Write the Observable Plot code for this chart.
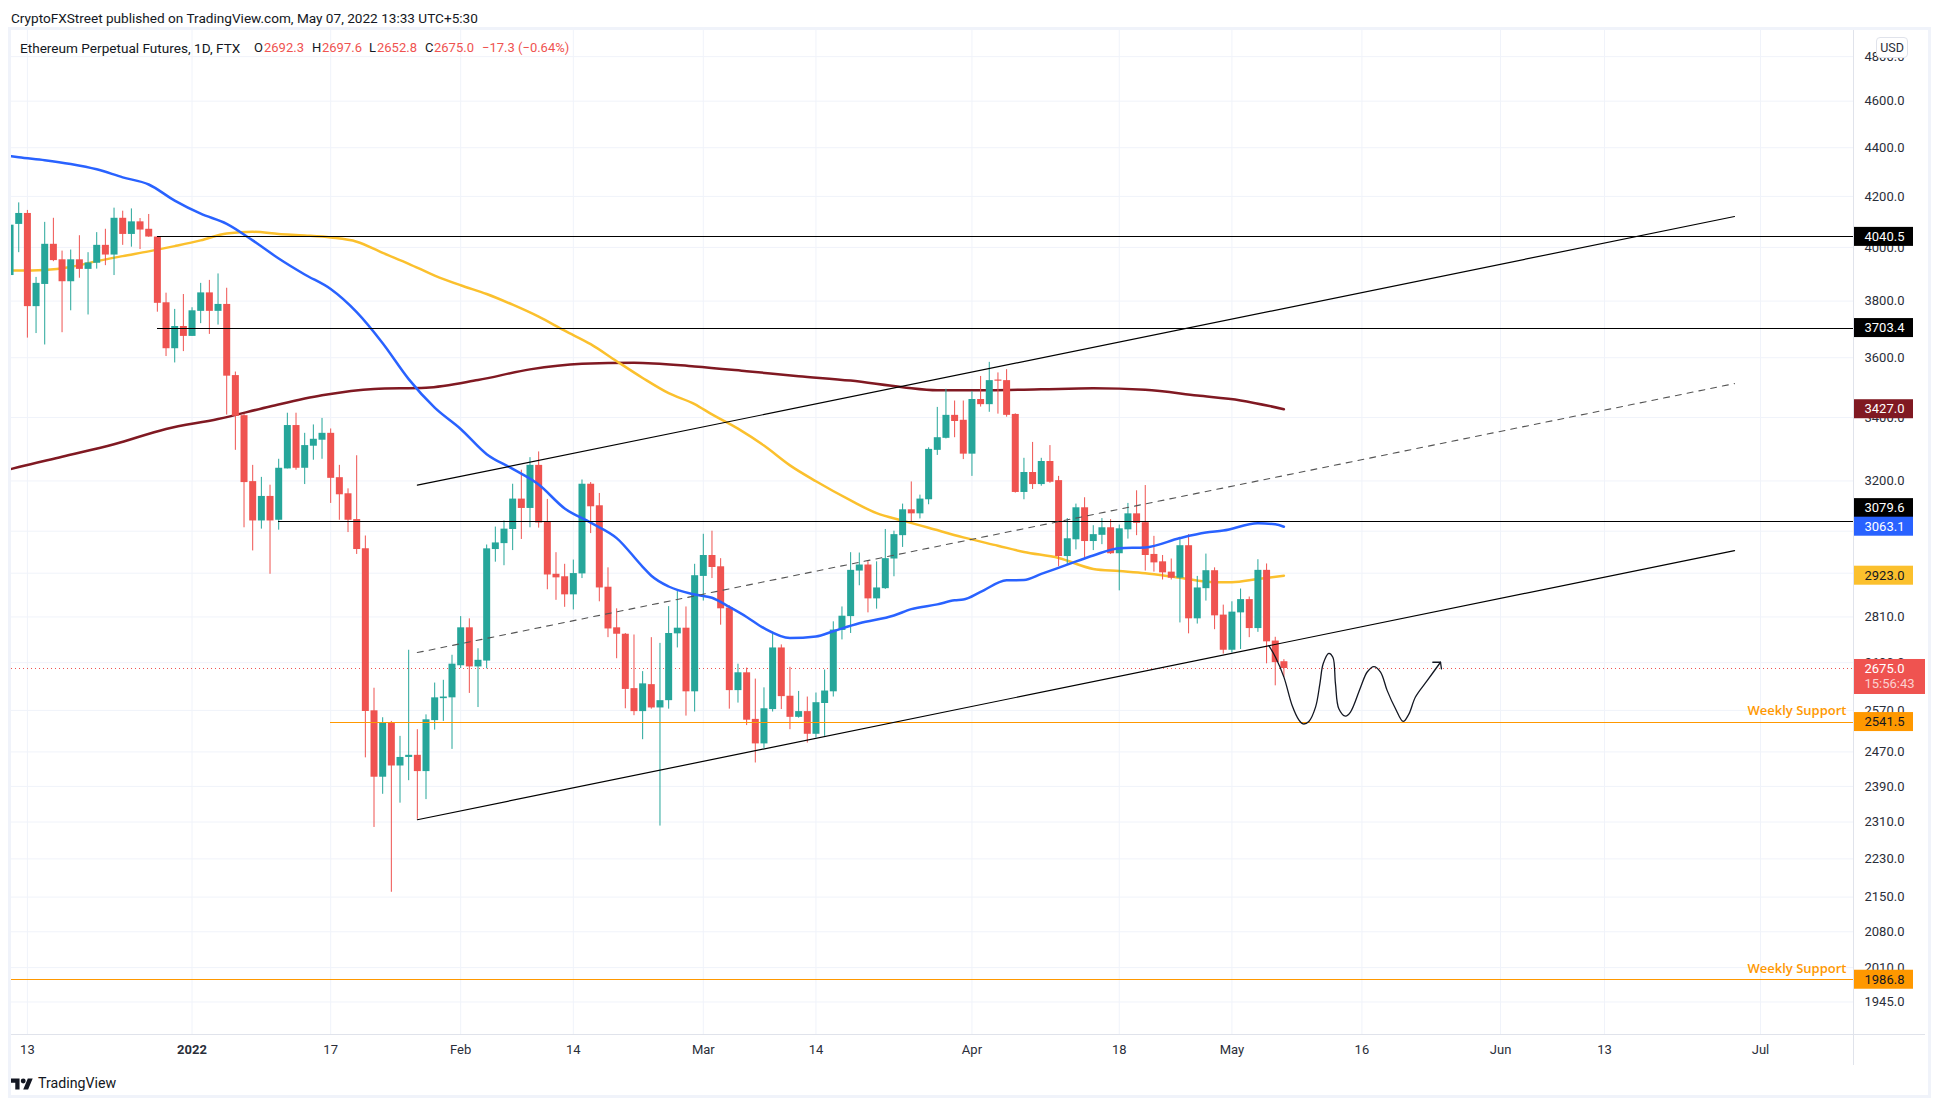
<!DOCTYPE html>
<html>
<head>
<meta charset="utf-8">
<script src="https://cdn.jsdelivr.net/npm/d3@7"></script>
<script src="https://cdn.jsdelivr.net/npm/@observablehq/plot@0.6"></script>
<style>
  html,body{margin:0;padding:0;background:#fff;width:1940px;height:1104px;overflow:hidden;font-family:Roboto,sans-serif;color:#131722}
  #head{height:30px;position:relative;font-size:13.6px}
  #head span{position:absolute;left:11px;top:10px;white-space:nowrap}
  #chart{position:relative;height:1035px}
  #chart svg{display:block;margin:-0.5px 0 0 -0.5px}
  #foot{height:39px;position:relative}
  #foot svg{position:absolute;left:11px;top:13px}
  #foot span{position:absolute;left:38px;top:10px;font-size:14.2px;color:#131722}
  .abs{position:absolute;pointer-events:none}
  #legend{left:20px;top:10px;font-size:13px;white-space:nowrap;line-height:16px;height:16px;width:600px}
  #legend span{position:absolute;top:0}
  #legend .t{font-size:13.6px}
  #legend .r{color:#ef5350}
  #usd{left:1876px;top:7px;width:30px;height:19px;border:1px solid #e0e3eb;border-radius:4px;background:#fff;font-size:12.5px;text-align:center;line-height:19px;color:#2a2e39}
  #frame{left:8px;top:-3px;width:1917px;height:1065px;border:3px solid #f0f3fa}
  #lineR{left:1853px;top:0;width:1px;height:1035px;background:#e0e3eb}
  #lineB{left:11px;top:1004px;width:1914px;height:1px;background:#e0e3eb}
</style>
</head>
<body>
<div id="head"><span>CryptoFXStreet published on TradingView.com, May 07, 2022 13:33 UTC+5:30</span></div>
<div id="chart">
  <div class="abs" id="legend">
    <span class="t" style="left:0">Ethereum Perpetual Futures, 1D, FTX</span>
    <span style="left:234px">O</span><span class="r" style="left:244px">2692.3</span>
    <span style="left:292px">H</span><span class="r" style="left:302px">2697.6</span>
    <span style="left:349px">L</span><span class="r" style="left:357px">2652.8</span>
    <span style="left:405px">C</span><span class="r" style="left:414px">2675.0</span>
    <span class="r" style="left:462px">−17.3 (−0.64%)</span>
  </div>
</div>
<div id="foot">
  <svg width="22" height="12" viewBox="0 7 36 18"><path fill="#131722" d="M14 25H7V14H0V7h14v18zM28 25h-8l7.5-18h8L28 25z"/><circle fill="#131722" cx="20" cy="11" r="4"/></svg>
  <span>TradingView</span>
</div>
<script>
// Daily candles from 2021-12-11 to 2022-05-07
const open = [
 3894,4089,4132,3780,3861,4012,3953,3871,3953,3917,3940,4008,3971,4113,4050,4099,4070,4040,3794,3631,3709,
 3674,3763,3830,3763,3788,3539,3406,3198,3080,3153,3082,3237,3374,3239,3308,3327,3349,3210,3161,3084,2999,2569,2411,2540,2437,2457,2462,2424,2545,2599,2601,
 2682,2781,2679,2694,2997,3014,3055,3145,3117,3248,3076,2927,2920,2870,2928,3190,3125,2891,2781,2764,2624,2567,2634,2576,2594,2765,2780,2616,
 2921,2980,2948,2834,2619,2664,2548,2489,2572,2728,2605,2553,2567,2512,2587,2616,2774,2811,2936,2953,2859,2887,2970,3037,3113,3101,3143,3295,3333,3407,3391,
 3283,3459,3442,3524,3522,3410,3165,3226,3189,3260,3201,2977,3025,3119,3020,3038,3060,2985,3054,3101,3075,2983,2962,2933,2916,3008,2805,2887,2937,2815,
 2722,2821,2857,2779,2938,2746,2692.3];
const high = [
 4086,4174,4144,3887,4097,4113,3986,3990,4045,3980,4057,4070,4153,4141,4150,4112,4128,4042,3829,3770,3824,
 3776,3865,3876,3900,3847,3551,3410,3248,3211,3187,3267,3414,3414,3349,3376,3397,3363,3248,3176,3278,3036,2625,2552,2543,2507,2722,2523,2559,2638,2645,2709,
 2811,2805,2726,3010,3062,3080,3190,3233,3272,3290,3144,2988,2955,2967,3203,3195,3162,2945,2832,2766,2762,2667,2755,2740,2838,2879,2837,2955,
 3041,3050,2971,2840,2686,2676,2648,2626,2770,2736,2678,2617,2603,2613,2671,2797,2837,2988,2987,2965,2962,3055,3050,3130,3197,3157,3303,3433,3493,3454,3454,
 3485,3536,3584,3548,3559,3412,3270,3320,3270,3310,3214,3087,3130,3149,3066,3087,3084,3068,3132,3170,3186,3035,2980,2970,3030,3040,2921,2984,2945,2842,
 2851,2886,2864,2968,2956,2756,2697.6];
const low = [
 3894,3980,3668,3684,3644,3946,3687,3765,3884,3750,3918,3931,3894,4008,4001,3992,4039,3760,3604,3582,3621,
 3674,3719,3681,3714,3408,3295,3060,2993,3056,2927,3053,3237,3233,3189,3264,3267,3132,3082,3046,2983,2456,2298,2372,2160,2352,2403,2316,2360,2522,2543,2476,
 2675,2612,2577,2674,2961,2951,2994,3026,3060,3059,2884,2855,2836,2829,2915,3043,2851,2755,2700,2574,2557,2499,2573,2301,2573,2728,2556,2566,
 2853,2915,2788,2573,2588,2533,2444,2478,2566,2572,2523,2551,2491,2503,2507,2603,2749,2766,2895,2821,2831,2885,2920,3003,3078,3086,3128,3279,3331,3335,3266,
 3214,3434,3417,3411,3401,3163,3143,3174,3184,3193,2948,2954,2996,2972,2994,3011,2983,2881,3027,3037,2936,2933,2911,2911,2794,2765,2791,2853,2776,2712,
 2715,2724,2755,2769,2687,2631,2652.8];
const close = [
 4086,4132,3780,3865,4012,3950,3871,3953,3917,3941,4008,3971,4113,4050,4099,4067,4040,3792,3631,3709,3674,
 3765,3830,3763,3788,3537,3404,3195,3080,3153,3080,3239,3374,3239,3310,3330,3349,3208,3158,3082,2997,2567,2411,2540,2437,2457,2462,2424,2547,2601,2603,2686,
 2781,2679,2696,2999,3016,3056,3145,3117,3248,3074,2925,2917,2870,2929,3190,3122,2889,2778,2764,2622,2567,2636,2576,2594,2766,2780,2616,2923,
 2980,2946,2832,2619,2664,2546,2489,2574,2728,2604,2553,2567,2512,2589,2618,2775,2812,2938,2953,2859,2889,2971,3040,3113,3101,3145,3298,3335,3407,3387,3283,
 3459,3442,3522,3520,3407,3165,3226,3189,3260,3196,2977,3028,3119,3020,3040,3060,2985,3057,3101,3073,2980,2959,2931,2916,3008,2805,2889,2937,2813,2722,
 2823,2857,2779,2938,2744,2690,2675.0];

// Moving averages
const blueDates = ["2021-12-11","2021-12-12","2021-12-15","2021-12-18","2021-12-21","2021-12-24","2021-12-27","2021-12-30","2022-01-02","2022-01-05","2022-01-08","2022-01-11","2022-01-14","2022-01-17","2022-01-20","2022-01-23","2022-01-26","2022-01-29","2022-02-01","2022-02-04","2022-02-07","2022-02-10","2022-02-13","2022-02-16","2022-02-19","2022-02-22","2022-02-23","2022-02-25","2022-02-28","2022-03-02","2022-03-04","2022-03-06","2022-03-08","2022-03-11","2022-03-14","2022-03-16","2022-03-19","2022-03-23","2022-03-25","2022-03-28","2022-03-30","2022-03-31","2022-04-02","2022-04-05","2022-04-07","2022-04-09","2022-04-12","2022-04-15","2022-04-18","2022-04-21","2022-04-25","2022-04-28","2022-04-30","2022-05-04","2022-05-06","2022-05-07"];
const blueValues = [4365,4360,4348,4332,4310,4277,4248,4183,4131,4091,4027,3958,3898,3844,3760,3650,3527,3432,3363,3283,3237,3189,3117,3075,3030,2948,2923,2893,2871,2862,2837,2810,2780,2754,2758,2772,2793,2814,2831,2844,2855,2857,2878,2910,2911,2928,2954,2980,3001,3003,3030,3046,3052,3073,3070,3063.1];
const orangeDates = ["2021-12-11","2021-12-12","2021-12-15","2021-12-18","2021-12-21","2021-12-24","2021-12-27","2021-12-30","2022-01-02","2022-01-05","2022-01-08","2022-01-11","2022-01-14","2022-01-17","2022-01-20","2022-01-23","2022-01-26","2022-01-29","2022-02-01","2022-02-04","2022-02-07","2022-02-10","2022-02-13","2022-02-16","2022-02-19","2022-02-22","2022-02-25","2022-02-28","2022-03-02","2022-03-05","2022-03-08","2022-03-11","2022-03-14","2022-03-18","2022-03-21","2022-03-24","2022-03-27","2022-03-31","2022-04-04","2022-04-07","2022-04-11","2022-04-15","2022-04-18","2022-04-21","2022-04-25","2022-04-29","2022-05-01","2022-05-04","2022-05-07"];
const orangeValues = [3913,3913,3915,3926,3948,3967,3985,4005,4027,4054,4060,4052,4046,4038,4022,3979,3938,3894,3858,3826,3787,3744,3694,3647,3588,3531,3480,3444,3410,3364,3310,3248,3199,3141,3103,3081,3060,3032,3008,2990,2973,2942,2936,2930,2917,2905,2905,2914,2923];
const maroonDates = ["2021-12-11","2021-12-12","2021-12-17","2021-12-23","2021-12-29","2022-01-04","2022-01-10","2022-01-16","2022-01-22","2022-01-28","2022-02-03","2022-02-09","2022-02-15","2022-02-21","2022-02-28","2022-03-06","2022-03-12","2022-03-18","2022-03-24","2022-03-28","2022-04-03","2022-04-09","2022-04-15","2022-04-21","2022-04-27","2022-05-02","2022-05-07"];
const maroonValues = [3236,3243,3275,3314,3363,3395,3436,3473,3494,3498,3524,3560,3579,3583,3570,3554,3537,3522,3500,3490,3490,3493,3496,3491,3472,3456,3427];

// Drawn levels and trend lines
const levelPrices = [4040.5,3703.4,3079.6];
const levelStarts = ["2021-12-28","2021-12-28","2022-01-11"];
const supportPrices = [2541.5,1986.8];
const supportStarts = ["2022-01-17","2021-12-11"];
const lastPrice = 2675.0;
const trendStart = "2022-01-27", trendEnd = "2022-06-28";
const upperTrend = [3187,4120];
const middleTrend = [2716,3512];
const lowerTrend = [2315,2994];

// Hand-drawn path: days since 2022-01-01, prices
const pathDays = [124.26,125.03,126,126.95,127.72,128.22,128.88,129.65,130.15,130.53,131.18,131.65,131.95,132.34,133.11,133.68,134.84,135.61,136.38,137.15,137.92,138.88,139.76,140.42,141.18,142.53,144.07];
const pathPrices = [2734,2704,2653,2582,2547,2537,2543,2578,2636,2687,2714,2704,2636,2574,2556,2566,2627,2666,2680,2666,2619,2574,2543,2561,2603,2644,2691];
const arrowDays = [143.18,144.07,144.18];
const arrowPrices = [2691,2691,2674];

// Axes
const yTicks = [4800,4600,4400,4200,4000,3800,3600,3400,3200,3050,2930,2810,2690,2570,2470,2390,2310,2230,2150,2080,2010,1945];
const xTickDates = ["2021-12-13","2022-01-17","2022-02-01","2022-02-14","2022-03-01","2022-03-14","2022-04-01","2022-04-18","2022-05-01","2022-05-16","2022-06-01","2022-06-13","2022-07-01"];
const xTickLabels = ["13","17","Feb","14","Mar","14","Apr","18","May","16","Jun","13","Jul"];
const yearDate = "2022-01-01", yearLabel = "2022";

// Price tags on the right axis
const tagTexts = ["4040.5","3703.4","3427.0","3079.6","3063.1","2923.0","2541.5","1986.8"];
const tagPrices = [4040.5,3703.4,3427.0,3118,3063.1,2923.0,2541.5,1986.8];
const tagFills = ["#000000","#000000","#801922","#000000","#2962ff","#fbc02d","#ff9800","#ff9800"];
const tagInks = ["#ffffff","#ffffff","#ffffff","#ffffff","#ffffff","#131722","#131722","#131722"];
const countdown = "15:56:43";

const xStart = new Date(Date.UTC(2021,11,11,4));
const xEnd = new Date(Date.UTC(2022,6,11,17,30));
const dayMs = 864e5;
const green = "#26a69a", red = "#ef5350", gridColor = "#f0f3fa";
const pxPerLog = 1046.4, pxPerDay = 8.666;

const D = s => new Date(s);
const fromDays = d => new Date(Date.UTC(2022,0,1) + d*dayMs);
const pts = (dates, values) => dates.map((d,i)=>({x:D(d), y:values[i]}));
const dates = d3.utcDay.range(D("2021-12-11"), D("2022-05-08"));
const candles = dates.map((date,i)=>({date, open:open[i], high:high[i], low:low[i], close:close[i]}));
const up = candles.filter(d=>d.close>=d.open), down = candles.filter(d=>d.close<d.open);
const xTicks = xTickDates.map(D);
const xLabel = new Map(xTicks.map((d,i)=>[+d,xTickLabels[i]]));

const trend = (v)=>[{x:D(trendStart),y:v[0]},{x:D(trendEnd),y:v[1]}];
const tagW = 60/pxPerDay;
const tags = tagTexts.map((text,i)=>({
  text, fill:tagFills[i], ink:tagInks[i], y:tagPrices[i],
  y1:tagPrices[i]*Math.exp(-9.5/pxPerLog), y2:tagPrices[i]*Math.exp(9.5/pxPerLog),
  x1:xEnd, x2:new Date(+xEnd+tagW*dayMs)
}));
const lastTag = [{x1:xEnd, x2:new Date(+xEnd+(72/pxPerDay)*dayMs),
  y1:lastPrice*Math.exp(-26/pxPerLog), y2:lastPrice*Math.exp(9/pxPerLog), y:lastPrice}];

const candleMarks = (rows,color)=>[
  Plot.ruleX(rows,{x:"date",y1:"low",y2:"high",stroke:color,strokeWidth:1,clip:true}),
  Plot.ruleX(rows,{x:"date",y1:"open",y2:"close",stroke:color,strokeWidth:7,clip:true})
];
const maLine = (dts,vals,color)=>Plot.line(pts(dts,vals),{x:"x",y:"y",stroke:color,strokeWidth:2.5,curve:"monotone-x",clip:true});

const plot = Plot.plot({
  width:1940, height:1035,
  marginLeft:11, marginRight:87, marginTop:0, marginBottom:31,
  style:{fontFamily:"Roboto, sans-serif", fontSize:"13px", color:"#2a2e39", background:"#fff", overflow:"visible"},
  x:{type:"utc", domain:[xStart,xEnd]},
  y:{type:"log", domain:[1885.5,4921.4]},
  marks:[
    Plot.gridY(yTicks,{stroke:gridColor,strokeOpacity:1}),
    Plot.gridX([D(yearDate),...xTicks],{stroke:gridColor,strokeOpacity:1}),
    Plot.ruleY([lastPrice],{stroke:red,strokeWidth:1,strokeDasharray:"1,3"}),
    maLine(maroonDates,maroonValues,"#801922"),
    maLine(orangeDates,orangeValues,"#fbc02d"),
    ...candleMarks(up,green),
    ...candleMarks(down,red),
    maLine(blueDates,blueValues,"#2962ff"),
    Plot.ruleY(levelPrices.map((p,i)=>({p,from:D(levelStarts[i]),to:xEnd})),{y:"p",x1:"from",x2:"to",stroke:"#000",strokeWidth:1,shapeRendering:"crispEdges"}),
    Plot.ruleY(supportPrices.map((p,i)=>({p,from:D(supportStarts[i]),to:xEnd})),{y:"p",x1:"from",x2:"to",stroke:"#ff9800",strokeWidth:1,shapeRendering:"crispEdges",clip:true}),
    Plot.line(trend(upperTrend),{x:"x",y:"y",stroke:"#000",strokeWidth:1.2}),
    Plot.line(trend(lowerTrend),{x:"x",y:"y",stroke:"#000",strokeWidth:1.2}),
    Plot.line(trend(middleTrend),{x:"x",y:"y",stroke:"#555",strokeWidth:1.1,strokeDasharray:"6,6"}),
    Plot.line(pathDays.map((d,i)=>({x:fromDays(d),y:pathPrices[i]})),{x:"x",y:"y",stroke:"#131722",strokeWidth:1.3,curve:"catmull-rom"}),
    Plot.line(arrowDays.map((d,i)=>({x:fromDays(d),y:arrowPrices[i]})),{x:"x",y:"y",stroke:"#131722",strokeWidth:1.3}),
    Plot.text(supportPrices,{x:()=>xEnd,y:d=>d,text:()=>"Weekly Support",textAnchor:"end",dx:-7,dy:-11,fill:"#ff9800",fontSize:13,fontWeight:600,fontFamily:"Open Sans"}),
    Plot.axisY(yTicks,{anchor:"right",tickSize:0,tickPadding:11,label:null,tickFormat:d=>d.toFixed(1),fontSize:13}),
    Plot.axisX(xTicks,{anchor:"bottom",tickSize:0,tickPadding:10,label:null,tickFormat:d=>xLabel.get(+d),fontSize:13}),
    Plot.axisX([D(yearDate)],{anchor:"bottom",tickSize:0,tickPadding:10,label:null,tickFormat:()=>yearLabel,fontSize:13,fontWeight:"bold"}),
    Plot.rect(tags,{x1:"x1",x2:"x2",y1:"y1",y2:"y2",fill:d=>d.fill}),
    Plot.text(tags,{x:"x1",y:"y",text:"text",dx:11,textAnchor:"start",fill:d=>d.ink,fontSize:13}),
    Plot.rect(lastTag,{x1:"x1",x2:"x2",y1:"y1",y2:"y2",fill:red}),
    Plot.text(lastTag,{x:"x1",y:"y",text:()=>lastPrice.toFixed(1),dx:11,textAnchor:"start",fill:"#fff",fontSize:13}),
    Plot.text(lastTag,{x:"x1",y:"y",text:()=>countdown,dx:11,dy:15,textAnchor:"start",fill:"#fbd0cf",fontSize:13})
  ]
});
const chart = document.getElementById("chart");
chart.insertBefore(plot, chart.firstChild);
for (const [id] of [["frame"],["lineR"],["lineB"],["usd"]]) {
  const div = document.createElement("div");
  div.id = id; div.className = "abs";
  if (id==="usd") div.textContent = "USD";
  chart.appendChild(div);
}
</script>
</body>
</html>
